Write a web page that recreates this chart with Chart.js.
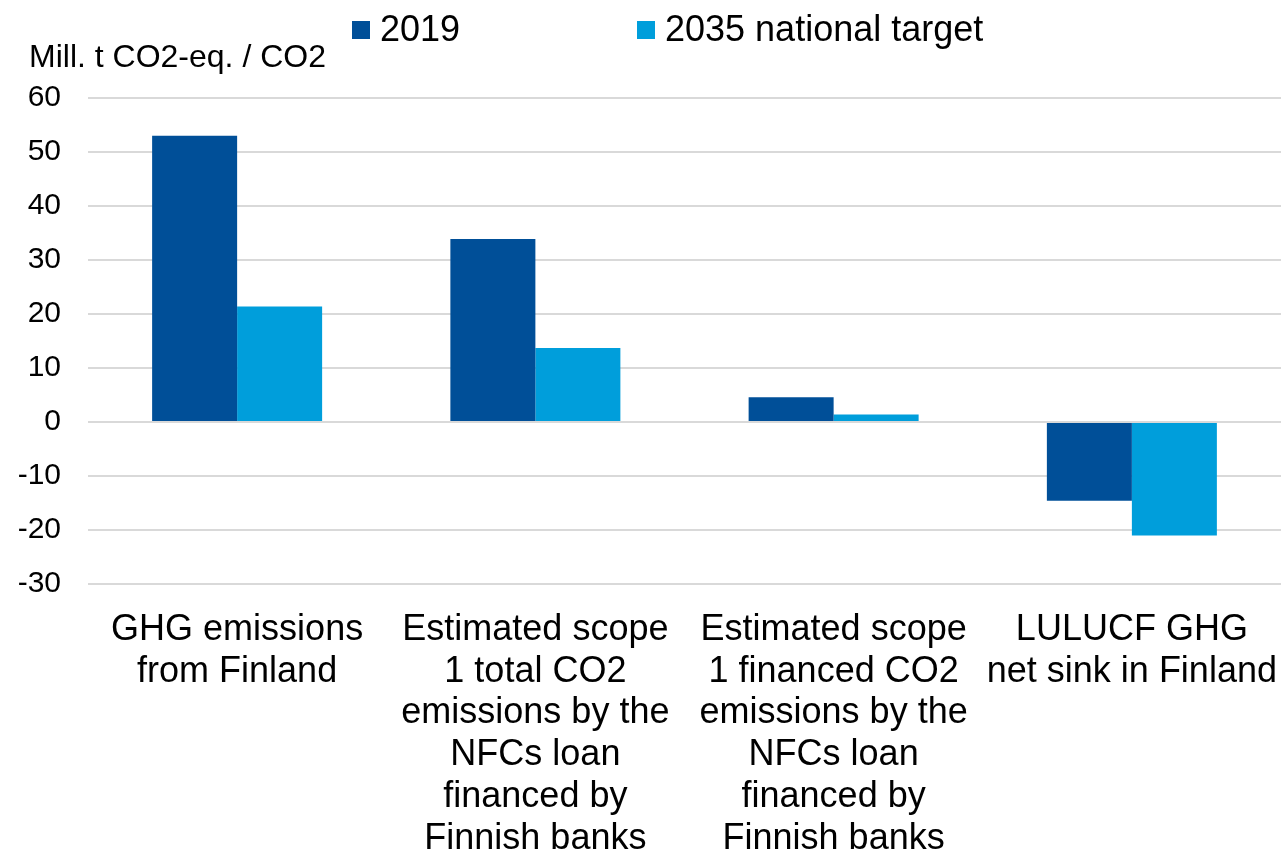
<!DOCTYPE html>
<html lang="en">
<head>
  <meta charset="UTF-8" />
  <title>Emissions: 2019 vs 2035 target</title>
  <script src="https://cdn.jsdelivr.net/npm/chart.js"></script>
  <style>
    html, body { margin: 0; padding: 0; background: #fff; }
    #wrap { width: 1281px; height: 856px; position: relative; }
  </style>
</head>
<body>
  <div id="wrap"><canvas id="chart"></canvas></div>

  <script>
    // categories (multi-line labels as in the original)
    const categories = [
      ["GHG emissions", "from Finland"],
      ["Estimated scope", "1 total CO2", "emissions by the", "NFCs loan", "financed by", "Finnish banks"],
      ["Estimated scope", "1 financed CO2", "emissions by the", "NFCs loan", "financed by", "Finnish banks"],
      ["LULUCF GHG", "net sink in Finland"]
    ];
    const values2019 = [53.0, 33.9, 4.6, -14.6];
    const valuesTarget2035 = [21.4, 13.7, 1.4, -21.0];
    const seriesNames = ["2019", "2035 national target"];
    const yTicks = [60, 50, 40, 30, 20, 10, 0, -10, -20, -30];
    const unitLabel = "Mill. t CO2-eq. / CO2";

    const FONT = '"Liberation Sans", Arial, sans-serif';

    // legend + unit label drawn by hand so they sit where the original has them
    const headerPlugin = {
      id: "header",
      afterDraw(chart) {
        const ctx = chart.ctx;
        ctx.save();
        ctx.textBaseline = "alphabetic";
        ctx.fillStyle = "#000";

        ctx.font = "36px " + FONT;
        const boxX = [352, 637];
        chart.data.datasets.forEach((ds, i) => {
          ctx.fillStyle = ds.backgroundColor;
          ctx.fillRect(boxX[i], 21, 18, 18);
          ctx.fillStyle = "#000";
          ctx.fillText(ds.label, boxX[i] + 28, 41);
        });

        ctx.font = "32px " + FONT;
        ctx.fillText(unitLabel, 29, 67);
        ctx.restore();
      }
    };

    new Chart(document.getElementById("chart"), {
      type: "bar",
      data: {
        labels: categories,
        datasets: [
          { label: seriesNames[0], data: values2019, backgroundColor: "#004f98" },
          { label: seriesNames[1], data: valuesTarget2035, backgroundColor: "#009edb" }
        ]
      },
      options: {
        responsive: true,
        maintainAspectRatio: false,
        animation: false,
        layout: { padding: { top: 98, left: 0, right: 0, bottom: 0 } },
        datasets: {
          bar: { categoryPercentage: 0.57, barPercentage: 1.0, borderWidth: 0 }
        },
        plugins: {
          legend: { display: false },
          tooltip: { enabled: false }
        },
        scales: {
          x: {
            grid: { display: false },
            border: { display: false },
            ticks: {
              color: "#000",
              font: { family: FONT, size: 36, lineHeight: 1.16 },
              padding: 17,
              maxRotation: 0,
              autoSkip: false
            },
            afterFit: s => {
              s.height = 272;
              s.paddingLeft = 0;
              s.paddingRight = 0;
            }
          },
          y: {
            min: -30,
            max: 60,
            afterBuildTicks: s => { s.ticks = yTicks.map(v => ({ value: v })); },
            grid: { color: "#d9d9d9", lineWidth: 2, drawTicks: false },
            border: { display: false },
            ticks: {
              color: "#000",
              font: { family: FONT, size: 30 },
              padding: 27
            },
            afterFit: s => { s.width = 88; }
          }
        }
      },
      plugins: [headerPlugin]
    });
  </script>
</body>
</html>
